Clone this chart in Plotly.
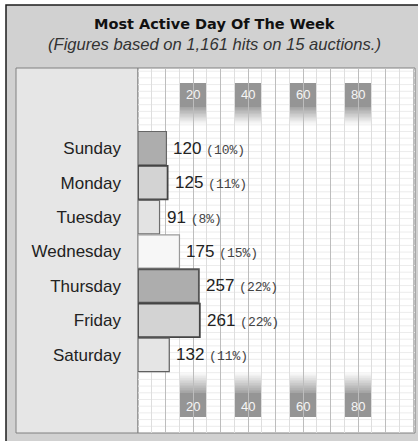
import plotly.graph_objects as go

# Hits per weekday
days = ["Sunday", "Monday", "Tuesday", "Wednesday", "Thursday", "Friday", "Saturday"]
hits = [120, 125, 91, 175, 257, 261, 132]
scale_ticks = [20, 40, 60, 80]

title = "Most Active Day Of The Week"
subtitle = "(Figures based on 1,161 hits on 15 auctions.)"

total = sum(hits)
shares = [h / total * 100 for h in hits]

bar_fill = ["#adadad", "#d3d3d3", "#e3e3e3", "#f7f7f7", "#adadad", "#d3d3d3", "#e5e5e5"]
bar_edge = ["#666666", "#444444", "#6e6e6e", "#9a9a9a", "#555555", "#444444", "#606060"]
bar_edge_w = [1.2, 1.8, 1.2, 1.2, 1.8, 1.8, 1.2]

W, H = 418, 441
ML, MR, MT, MB = 138, 3, 69, 8
PW, PH = W - ML - MR, H - MT - MB


def fx(px):
    return (px - ML) / PW


def fy(py):
    return (H - MB - py) / PH


fig = go.Figure()

fig.add_trace(go.Bar(
    x=shares, y=days, orientation="h",
    marker=dict(color=bar_fill, line=dict(color=bar_edge, width=bar_edge_w)),
    width=0.97, hoverinfo="skip",
))

shapes = [
    # outer frame
    dict(type="rect", xref="paper", yref="paper", x0=fx(6), x1=fx(425), y0=fy(450), y1=fy(5),
         fillcolor="#d1d1d1", line=dict(color="#1c1c1c", width=1.5), layer="below"),
    # label column
    dict(type="rect", xref="paper", yref="paper", x0=fx(16), x1=0, y0=0, y1=fy(68),
         fillcolor="#e6e6e6", line=dict(color="#808080", width=1), layer="below"),
    # chart panel
    dict(type="rect", xref="paper", yref="paper", x0=0, x1=1, y0=0, y1=fy(68),
         fillcolor="#ffffff", line=dict(color="#808080", width=1), layer="below"),
]

# fine horizontal ruling of the chart panel
rule_step = 6.7
py = 433 - rule_step
while py > 69:
    shapes.append(dict(type="line", xref="paper", yref="paper", x0=0, x1=1, y0=fy(py), y1=fy(py),
                       line=dict(color="#ececec", width=1), layer="below"))
    py -= rule_step


def mix(a, b, t):
    return int(round(a + (b - a) * t))


half = 4.9
n_fade = 12
for t in scale_ticks:
    # upper badge: solid block then fade to white
    shapes.append(dict(type="rect", xref="x", yref="paper", x0=t - half, x1=t + half,
                       y0=fy(107.5), y1=fy(83), fillcolor="#959595", line_width=0, layer="between"))
    step = 17 / n_fade
    for i in range(n_fade):
        g = mix(0x9d, 0xff, (i + 1) / (n_fade + 1))
        y_top = 107 + i * step
        shapes.append(dict(type="rect", xref="x", yref="paper", x0=t - half, x1=t + half,
                           y0=fy(y_top + step + 0.6), y1=fy(y_top),
                           fillcolor=f"rgb({g},{g},{g})", line_width=0, layer="between"))
    # lower badge: fade from white then solid block
    shapes.append(dict(type="rect", xref="x", yref="paper", x0=t - half, x1=t + half,
                       y0=fy(417), y1=fy(392.5), fillcolor="#959595", line_width=0, layer="between"))
    step = 20 / n_fade
    for i in range(n_fade):
        g = mix(0x9d, 0xff, (i + 1) / (n_fade + 1))
        y_bot = 393 - i * step
        shapes.append(dict(type="rect", xref="x", yref="paper", x0=t - half, x1=t + half,
                           y0=fy(y_bot), y1=fy(y_bot - step - 0.6),
                           fillcolor=f"rgb({g},{g},{g})", line_width=0, layer="between"))

annotations = [
    dict(text=f"<b>{title}</b>", xref="paper", yref="paper", x=fx(214), y=fy(24),
         xanchor="center", yanchor="middle", showarrow=False,
         font=dict(family="DejaVu Sans", size=14.5, color="#111111")),
    dict(text=f"<i>{subtitle}</i>", xref="paper", yref="paper", x=fx(214), y=fy(44),
         xanchor="center", yanchor="middle", showarrow=False,
         font=dict(family="Liberation Sans", size=16.6, color="#333333")),
]

for t in scale_ticks:
    for py in (95, 406):
        annotations.append(dict(text=str(t), xref="x", yref="paper", x=t, y=fy(py),
                                xanchor="center", yanchor="middle", showarrow=False,
                                font=dict(family="Liberation Sans", size=13, color="#f6f6f6")))

for d, h, s in zip(days, hits, shares):
    annotations.append(dict(
        text=(f"{h} <span style='font-family:Liberation Mono;font-size:13px;color:#444444'>"
              f"({round(s)}%)</span>"),
        x=s, y=d, xref="x", yref="y", xanchor="left", xshift=5, showarrow=False,
        font=dict(family="Liberation Sans", size=17, color="#222222"),
    ))

fig.update_layout(
    width=W, height=H,
    margin=dict(l=ML, r=MR, t=MT, b=MB, pad=0),
    paper_bgcolor="#ffffff", plot_bgcolor="rgba(0,0,0,0)",
    showlegend=False, bargap=0.03,
    shapes=shapes, annotations=annotations,
    xaxis=dict(range=[0, PW / 2.75], tick0=0, dtick=10, showgrid=True, gridcolor="#bdbdbd",
               gridwidth=1, showticklabels=False, ticks="", zeroline=False, showline=False,
               minor=dict(dtick=5, showgrid=True, gridcolor="#dedede", gridwidth=1),
               fixedrange=True),
    yaxis=dict(categoryorder="array", categoryarray=days, range=[8.27, -2.30],
               showgrid=False, zeroline=False, showline=False, ticks="",
               ticklabelstandoff=16,
               tickfont=dict(family="Liberation Sans", size=17, color="#222222"),
               fixedrange=True),
)

fig.write_html("out.html")
